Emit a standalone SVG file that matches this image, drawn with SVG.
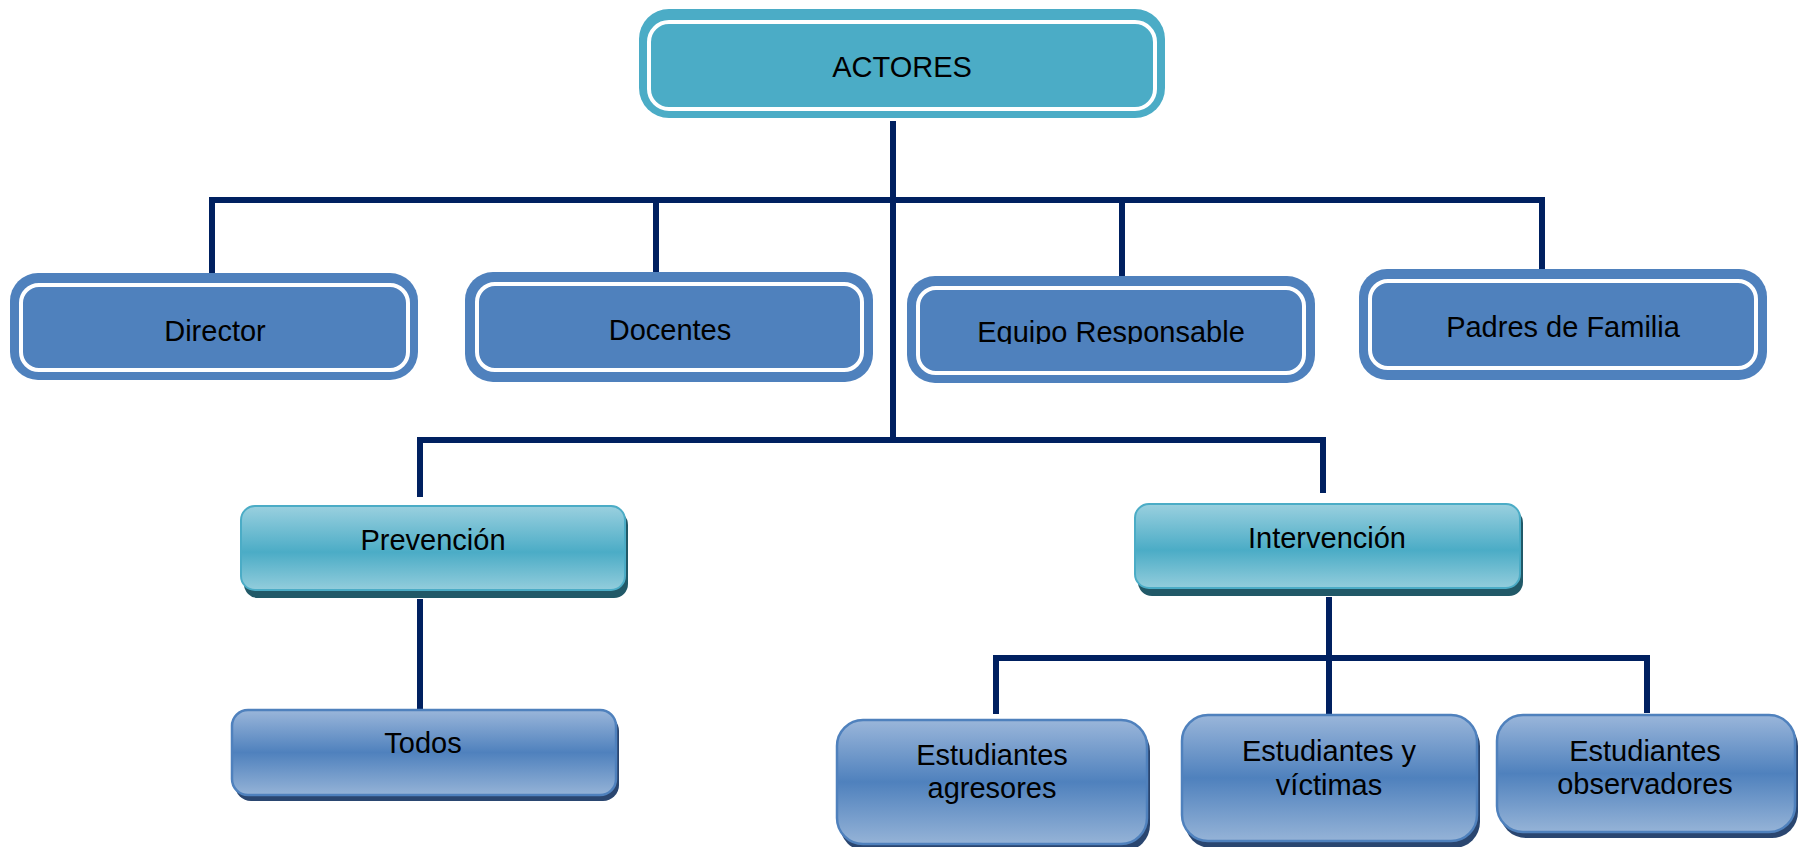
<svg xmlns="http://www.w3.org/2000/svg" width="1803" height="847" viewBox="0 0 1803 847">
<style>
  .t { font-family: "Liberation Sans", Arial, sans-serif; font-size: 29px; fill: #000; text-anchor: middle; }
  .outer { fill: #4f81bd; }
  .outerA { fill: #4bacc6; }
  .inner { fill: none; stroke: #ffffff; stroke-width: 4; }
  .teal { fill: url(#gTeal); stroke: #4bacc6; stroke-width: 2; }
  .tealSh { fill: #215968; }
  .blue { fill: url(#gBlue); stroke: #4f81bd; stroke-width: 2.5; }
  .blueSh { fill: #2a4670; }
  .conn { fill: none; stroke: #002060; stroke-width: 6; stroke-linejoin: miter; stroke-linecap: butt; }
</style>
<defs>
  <linearGradient id="gTeal" x1="0" y1="0" x2="0" y2="1">
    <stop offset="0" stop-color="#9ad0df"/>
    <stop offset="0.55" stop-color="#4bacc6"/>
    <stop offset="1" stop-color="#93cddc"/>
  </linearGradient>
  <linearGradient id="gBlue" x1="0" y1="0" x2="0" y2="1">
    <stop offset="0" stop-color="#9ab6da"/>
    <stop offset="0.5" stop-color="#4f81bd"/>
    <stop offset="1" stop-color="#95b3d7"/>
  </linearGradient>
  <clipPath id="clipEq">
    <rect x="907" y="276" width="408" height="68"/>
  </clipPath>
</defs>
<rect width="1803" height="847" fill="#ffffff"/>

<g id="connectors">
  <path class="conn" d="M893 121 V440"/>
  <path class="conn" d="M212 282 V200 H1542 V281"/>
  <path class="conn" d="M656 200 V283"/>
  <path class="conn" d="M1122 200 V280"/>
  <path class="conn" d="M420 497 V440 H1323 V493"/>
  <path class="conn" d="M420 599 V710"/>
  <path class="conn" d="M1329 597 V718"/>
  <path class="conn" d="M996 714 V658 H1647 V713"/>
</g>

<g id="actores">
  <rect class="outerA" x="639" y="9" width="526" height="109" rx="30"/>
  <rect class="inner" x="649" y="22" width="506" height="87" rx="20"/>
  <text class="t" x="902" y="77">ACTORES</text>
</g>

<g id="director">
  <rect class="outer" x="10" y="273" width="408" height="107" rx="28"/>
  <rect class="inner" x="21" y="285" width="387" height="85" rx="18"/>
  <text class="t" x="215" y="341">Director</text>
</g>

<g id="docentes">
  <rect class="outer" x="465" y="272" width="408" height="110" rx="28"/>
  <rect class="inner" x="477" y="284" width="385" height="86" rx="18"/>
  <text class="t" x="670" y="340">Docentes</text>
</g>

<g id="equipo">
  <rect class="outer" x="907" y="276" width="408" height="107" rx="28"/>
  <rect class="inner" x="918" y="288" width="386" height="85" rx="18"/>
  <text class="t" x="1111" y="342" clip-path="url(#clipEq)">Equipo Responsable</text>
</g>

<g id="padres">
  <rect class="outer" x="1359" y="269" width="408" height="111" rx="28"/>
  <rect class="inner" x="1370" y="281" width="386" height="87" rx="18"/>
  <text class="t" x="1563" y="337">Padres de Familia</text>
</g>

<g id="prevencion">
  <rect class="tealSh" x="244" y="511" width="384" height="87" rx="14"/>
  <rect class="teal" x="241" y="506" width="384" height="84" rx="14"/>
  <text class="t" x="433" y="550">Prevención</text>
</g>

<g id="intervencion">
  <rect class="tealSh" x="1138" y="509" width="385" height="87" rx="14"/>
  <rect class="teal" x="1135" y="504" width="385" height="84" rx="14"/>
  <text class="t" x="1327" y="548">Intervención</text>
</g>

<g id="todos">
  <rect class="blueSh" x="235" y="715" width="384" height="86" rx="16"/>
  <rect class="blue" x="232" y="710" width="384" height="85" rx="16"/>
  <text class="t" x="423" y="753">Todos</text>
</g>

<g id="agresores">
  <rect class="blueSh" x="840" y="725" width="310" height="126" rx="26"/>
  <rect class="blue" x="837" y="720" width="310" height="124" rx="26"/>
  <text class="t" x="992" y="765">Estudiantes</text>
  <text class="t" x="992" y="798">agresores</text>
</g>

<g id="victimas">
  <rect class="blueSh" x="1185" y="720" width="295" height="128" rx="26"/>
  <rect class="blue" x="1182" y="715" width="295" height="126" rx="26"/>
  <text class="t" x="1329" y="761">Estudiantes y</text>
  <text class="t" x="1329" y="795">víctimas</text>
</g>

<g id="observadores">
  <rect class="blueSh" x="1500" y="720" width="298" height="118" rx="26"/>
  <rect class="blue" x="1497" y="715" width="298" height="117" rx="26"/>
  <text class="t" x="1645" y="761">Estudiantes</text>
  <text class="t" x="1645" y="794">observadores</text>
</g>
</svg>
